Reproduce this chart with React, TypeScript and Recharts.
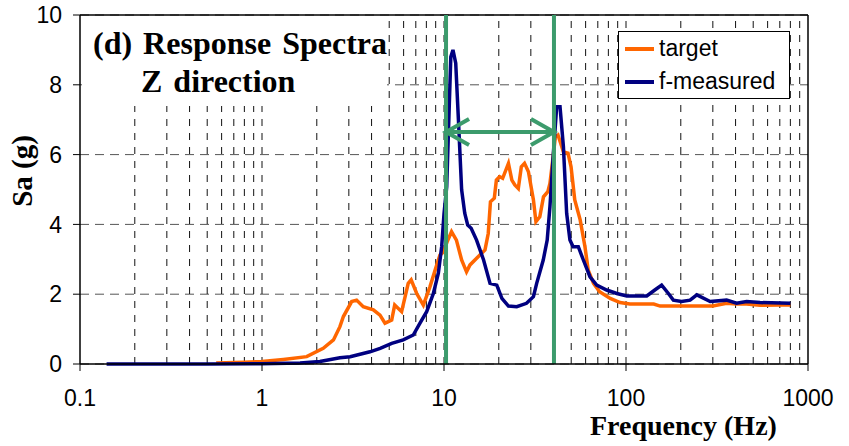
import {
  LineChart,
  Line,
  XAxis,
  YAxis,
  CartesianGrid,
  ReferenceLine,
  Legend,
  Label,
} from "recharts";

// target spectrum (Hz / g)
const targetFreq = [
  0.56, 0.8, 1.0, 1.31, 1.76, 2.17, 2.47, 2.68, 2.8, 3.11, 3.31, 3.6, 4.09, 4.45,
  4.74, 5.16, 5.36, 5.85, 6.36, 6.6, 7.08, 7.7, 8.37, 9.0, 9.5, 9.9, 10.4, 11.0,
  11.7, 12.5, 13.3, 13.9, 15.4, 16.8, 17.5, 18.0, 18.9, 19.4, 20.2, 21.0, 22.6,
  23.6, 24.5, 25.6, 26.6, 27.7, 29.1, 31.0, 32.0, 33.6, 35.2, 37.2, 38.2, 39.5,
  40.9, 42.3, 45.3, 48.0, 49.9, 52.3, 56.0, 59.5, 62.0, 66.3, 71.6, 81.9, 92.8,
  105, 142, 154, 200, 300, 357, 405, 460, 545, 700, 800,
];
const targetSa = [
  0.03, 0.05, 0.07, 0.13, 0.21, 0.45, 0.69, 1.07, 1.36, 1.79, 1.83, 1.64, 1.55,
  1.4, 1.17, 1.26, 1.69, 1.5, 2.31, 2.41, 2.02, 1.69, 2.21, 2.74, 3.12, 3.2, 3.5,
  3.79, 3.55, 2.98, 2.64, 2.84, 3.07, 3.27, 3.74, 4.65, 4.75, 5.27, 5.37, 5.32,
  5.75, 5.27, 5.13, 5.03, 5.65, 5.75, 5.51, 4.7, 4.08, 4.22, 4.79, 4.94, 5.17,
  5.8, 6.5, 6.56, 6.08, 6.04, 5.65, 4.7, 4.13, 3.36, 2.69, 2.31, 2.07, 1.88, 1.76,
  1.72, 1.72, 1.66, 1.66, 1.66, 1.74, 1.72, 1.72, 1.68, 1.69, 1.69,
];

// measured spectrum (Hz / g)
const measuredFreq = [
  0.14, 0.5, 1.0, 1.62, 2.08, 2.68, 3.05, 3.92, 4.46, 5.16, 5.97, 6.78, 7.38,
  8.03, 8.74, 9.31, 9.71, 10.0, 10.35, 10.7, 10.9, 11.2, 11.6, 12.0, 12.5, 13.0,
  13.5, 14.1, 15.1, 16.5, 17.9, 19.5, 20.8, 22.6, 25.1, 28.4, 31.0, 32.3, 35.1,
  36.9, 38.2, 39.9, 41.6, 43.4, 45.3, 47.2, 49.2, 51.2, 54.7, 58.3, 63.4, 69.0,
  78.3, 89.0, 101, 130, 144, 157, 171, 182, 202, 225, 245, 290, 357, 405, 460,
  545, 800,
];
const measuredSa = [
  0, 0, 0.01, 0.03, 0.07, 0.18, 0.21, 0.35, 0.45, 0.59, 0.69, 0.83, 1.17, 1.5,
  2.02, 2.6, 3.36, 4.3, 5.08, 7.47, 8.8, 9.0, 8.62, 7.0, 4.99, 4.32, 3.98, 3.89,
  3.55, 2.98, 2.31, 2.26, 1.88, 1.66, 1.64, 1.74, 1.93, 2.31, 2.98, 3.55, 4.51,
  6.04, 7.37, 7.37, 6.23, 4.32, 3.55, 3.36, 3.36, 2.98, 2.5, 2.26, 2.12, 2.02,
  1.95, 1.95, 2.12, 2.26, 2.02, 1.83, 1.79, 1.83, 1.98, 1.79, 1.83, 1.74, 1.79,
  1.76, 1.74,
];

const seriesNames = ["target", "f-measured"];
const xTicks = [0.1, 1, 10, 100, 1000];
const yTicks = [0, 2, 4, 6, 8, 10];
const decades = [0.1, 1, 10, 100];
const minorSteps = [1, 2, 3, 4, 5, 6, 7, 8, 9];
const bandEdges = [10.26, 40.2];
const bandArrowLevel = 6.65;

const targetData = targetFreq.map((f, i) => ({ f, sa: targetSa[i] }));
const measuredData = measuredFreq.map((f, i) => ({ f, sa: measuredSa[i] }));
const gridFreqs = decades
  .flatMap((d) => minorSteps.map((m) => +(d * m).toPrecision(3)))
  .filter((f) => f > 0.1);

const GREEN = "#3c9b6c";
const SANS = "'Liberation Sans', Arial, sans-serif";
const SERIF = "'Liberation Serif', 'Times New Roman', serif";

const ArrowShape = (props: any) => {
  const { x1, y1, x2, y2 } = props;
  const left = Math.min(x1, x2);
  const right = Math.max(x1, x2);
  const y = (y1 + y2) / 2;
  return (
    <g stroke={GREEN} strokeWidth={4} fill="none" strokeLinecap="butt">
      <line x1={left} y1={y} x2={right} y2={y} />
      <polyline points={`${left + 23},${y - 13} ${left},${y} ${left + 23},${y + 13}`} />
      <polyline points={`${right - 23},${y - 13} ${right},${y} ${right - 23},${y + 13}`} />
    </g>
  );
};

const LegendBox = (props: any) => {
  const items = [...(props.payload || [])].sort(
    (a: any, b: any) => seriesNames.indexOf(a.value) - seriesNames.indexOf(b.value)
  );
  return (
    <div
      style={{
        width: 170,
        height: 66,
        border: "1px solid #000",
        background: "#fff",
        fontFamily: SANS,
        fontSize: 23,
        color: "#000",
      }}
    >
      {items.map((entry: any, index: number) => (
        <div
          key={`item-${index}`}
          style={{ display: "flex", alignItems: "center", height: 33 }}
        >
          <span
            style={{
              display: "inline-block",
              width: 29,
              height: 4,
              background: entry.color,
              marginLeft: 6,
              marginRight: 5,
            }}
          />
          <span>{entry.value}</span>
        </div>
      ))}
    </div>
  );
};

const YTitle = () => (
  <text
    x={32}
    y={171}
    transform="rotate(-90, 32, 171)"
    textAnchor="middle"
    fontFamily={SERIF}
    fontWeight="bold"
    fontSize={29}
    fill="#000"
  >
    Sa (g)
  </text>
);

const XTitle = () => (
  <text x={590} y={435} fontFamily={SERIF} fontWeight="bold" fontSize={28} fill="#000">
    Frequency (Hz)
  </text>
);

const App = () => {
  return (
    <div
      style={{
        position: "absolute",
        left: 0,
        top: 0,
        width: 849,
        height: 446,
        background: "#fff",
      }}
    >
      <LineChart
        width={849}
        height={446}
        margin={{ top: 15, right: 41, bottom: 0, left: 0 }}
      >
        <CartesianGrid vertical={false} stroke="#555" strokeDasharray="9 6" />
        {gridFreqs.map((f) => (
          <ReferenceLine
            key={`g-${f}`}
            x={f}
            stroke="#111"
            strokeDasharray="7 7"
            strokeWidth={1}
          />
        ))}
        <ReferenceLine y={10} stroke="#000" strokeWidth={1.5} />
        <ReferenceLine x={1000} stroke="#000" strokeWidth={1.5} />
        <XAxis
          dataKey="f"
          type="number"
          scale="log"
          domain={[0.1, 1000]}
          allowDataOverflow
          ticks={xTicks}
          interval={0}
          height={82}
          tickSize={7}
          tickMargin={19}
          tickFormatter={(v: number) => String(v)}
          axisLine={{ stroke: "#000", strokeWidth: 1.5 }}
          tickLine={{ stroke: "#000" }}
          tick={{ fill: "#000", fontSize: 23, fontFamily: SANS }}
        >
          <Label content={<XTitle />} />
        </XAxis>
        <YAxis
          type="number"
          domain={[0, 10]}
          ticks={yTicks}
          interval={0}
          width={80}
          tickSize={7}
          tickMargin={11}
          axisLine={{ stroke: "#000", strokeWidth: 1.5 }}
          tickLine={{ stroke: "#000" }}
          tick={{ fill: "#000", fontSize: 23, fontFamily: SANS }}
        >
          <Label content={<YTitle />} />
        </YAxis>
        <Legend
          layout="horizontal"
          verticalAlign="middle"
          align="center"
          content={<LegendBox />}
          wrapperStyle={{ left: 618, top: 31, width: 172, height: 68 }}
        />
        <Line
          data={targetData}
          dataKey="sa"
          name="target"
          type="linear"
          stroke="#ff6600"
          strokeWidth={3.5}
          dot={false}
          activeDot={false}
          isAnimationActive={false}
        />
        <Line
          data={measuredData}
          dataKey="sa"
          name="f-measured"
          type="linear"
          stroke="#000080"
          strokeWidth={3.5}
          dot={false}
          activeDot={false}
          isAnimationActive={false}
        />
        {bandEdges.map((f) => (
          <ReferenceLine key={`b-${f}`} x={f} stroke={GREEN} strokeWidth={4} />
        ))}
        <ReferenceLine
          segment={[
            { x: bandEdges[0], y: bandArrowLevel },
            { x: bandEdges[1], y: bandArrowLevel },
          ]}
          shape={ArrowShape}
        />
      </LineChart>
      <svg
        width={849}
        height={446}
        style={{ position: "absolute", left: 0, top: 0, pointerEvents: "none" }}
      >
        <rect x={82} y={21} width={305} height={85} fill="#fff" />
        <g fontFamily={SERIF} fontWeight="bold" fontSize={32} fill="#000" wordSpacing={3}>
          <text x={93} y={54}>
            (d) Response Spectra
          </text>
          <text x={141} y={92}>
            Z direction
          </text>
        </g>
      </svg>
    </div>
  );
};

export default App;
